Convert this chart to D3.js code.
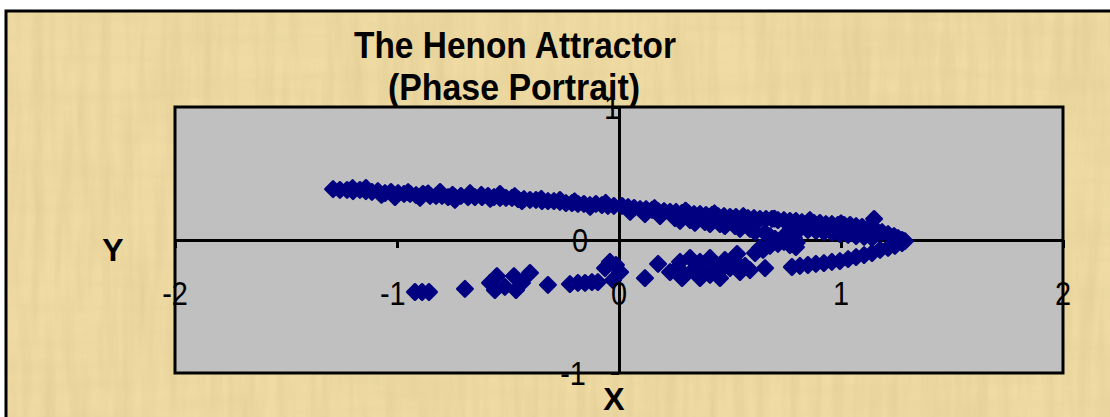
<!DOCTYPE html>
<html>
<head>
<meta charset="utf-8">
<script src="https://cdn.jsdelivr.net/npm/d3@7"></script>
<style>
  body { margin: 0; background: #fff; }
  svg { display: block; font-family: Arial, "Liberation Sans", sans-serif; }
</style>
</head>
<body>
<div id="chart"></div>
<script>
var width = 1110, height = 417;

// plot area in pixels
var plot = { left: 175, right: 1063, top: 107, bottom: 373 };

var titleLines = ["The Henon Attractor", "(Phase Portrait)"];
var xTicks = [-2, -1, 0, 1, 2];
var yTicks = [-1, 0, 1];

// Henon map iterates (x, y)
var henonX = [
    // upper band, left half
    -1.288, -1.257, -1.225, -1.198, -1.167, -1.140, -1.113, -1.086, -1.054, -1.027,
    -0.995, -0.968, -0.941, -0.914, -0.883, -0.851, -0.824, -0.797, -0.770, -0.739,
    -0.712, -0.680, -0.649, -0.617, -0.590, -0.563, -0.536, -0.509, -0.482, -0.455,
    -0.428, -0.401, -0.374, -0.347, -0.320, -0.293, -0.266, -0.239, -0.212, -0.185,
    -0.158, -0.131, -0.104, -0.077, -0.050, -0.023,
    -1.009, -0.896, -0.806, -0.671, -0.536, -1.140, -0.739, -0.437, -0.266,
    -1.200, -1.070, -0.950, -0.860, -0.750, -0.620, -0.580, -0.470, -0.350, -0.200,
    -0.130, -0.060,
    // upper band, right half
    0.014, 0.041, 0.068, 0.095, 0.122, 0.149, 0.176, 0.203, 0.230, 0.257,
    0.284, 0.311, 0.338, 0.365, 0.392, 0.419, 0.446, 0.473, 0.500, 0.527,
    0.554, 0.581, 0.608, 0.635, 0.662, 0.689, 0.716, 0.743, 0.770, 0.797,
    0.824, 0.851, 0.878, 0.905, 0.932, 0.959, 0.986, 1.014, 1.041, 1.068,
    1.095, 1.122, 1.149, 1.158, 1.185, 1.212, 1.239, 1.257, 1.275, 1.288,
    0.160, 0.300, 0.430, 0.560, 0.700, 0.860, 1.000,
    // second row under the upper band
    0.050, 0.117, 0.185, 0.252, 0.275, 0.320, 0.342, 0.387, 0.410, 0.455,
    0.477, 0.523, 0.545, 0.590, 0.613, 0.658, 0.680,
    0.779, 0.815, 0.851, 0.887, 0.923, 0.959, 0.995, 1.032, 1.068, 1.104, 1.140,
    // lower strand returning from the tip
    0.779, 0.815, 0.851, 0.887, 0.923, 0.959, 0.995, 1.032, 1.068, 1.104,
    1.140, 1.176, 1.212, 1.243, 1.275,
    // knot near the axis
    0.613, 0.649, 0.680, 0.716, 0.743, 0.770, 0.797, 0.635, 0.703, 0.743,
    0.770, 0.788, 0.800, 0.658,
    // middle cluster
    0.252, 0.275, 0.297, 0.320, 0.342, 0.365, 0.387, 0.410, 0.432, 0.455,
    0.477, 0.500, 0.523, 0.545, 0.568, 0.590, 0.532, 0.284, 0.365, 0.455,
    0.410, 0.230,
    // lower left points
    -0.919, -0.887, -0.856, -0.694, -0.581, -0.559, -0.550, -0.514, -0.473, -0.464,
    -0.437, -0.401, -0.320, -0.221, -0.185, -0.153, -0.122, -0.095,
    -0.063, -0.041, -0.014, -0.027, 0.005, 0.117, 0.176
];
var henonY = [
    0.383, 0.376, 0.376, 0.368, 0.376, 0.368, 0.361, 0.368, 0.353, 0.361,
    0.353, 0.346, 0.346, 0.338, 0.346, 0.331, 0.331, 0.331, 0.323, 0.323,
    0.331, 0.323, 0.323, 0.323, 0.331, 0.323, 0.316, 0.316, 0.316, 0.308,
    0.308, 0.301, 0.301, 0.293, 0.293, 0.293, 0.286, 0.278, 0.278, 0.271,
    0.271, 0.263, 0.271, 0.263, 0.256, 0.256,
    0.323, 0.316, 0.361, 0.353, 0.346, 0.391, 0.301, 0.293, 0.301,
    0.390, 0.340, 0.360, 0.350, 0.340, 0.340, 0.310, 0.330, 0.310, 0.290,
    0.250, 0.280,
    0.256, 0.248, 0.241, 0.233, 0.233, 0.226, 0.218, 0.218, 0.211, 0.211,
    0.203, 0.203, 0.195, 0.195, 0.188, 0.188, 0.180, 0.180, 0.173, 0.173,
    0.165, 0.165, 0.165, 0.158, 0.158, 0.158, 0.150, 0.150, 0.143, 0.143,
    0.135, 0.135, 0.128, 0.128, 0.120, 0.120, 0.113, 0.113, 0.113, 0.105,
    0.098, 0.090, 0.158, 0.075, 0.060, 0.045, 0.030, 0.015, 0.000, -0.008,
    0.240, 0.220, 0.200, 0.180, 0.160, 0.150, 0.125,
    0.211, 0.195, 0.180, 0.165, 0.143, 0.150, 0.128, 0.135, 0.120, 0.120,
    0.105, 0.105, 0.083, 0.083, 0.060, 0.053, 0.030,
    0.090, 0.083, 0.075, 0.068, 0.060, 0.053, 0.045, 0.038, 0.030, 0.023, 0.015,
    -0.203, -0.195, -0.188, -0.180, -0.173, -0.165, -0.158, -0.143, -0.128, -0.113,
    -0.098, -0.075, -0.060, -0.045, -0.023,
    -0.098, -0.075, -0.045, -0.030, -0.015, -0.038, -0.053, -0.060, 0.008, 0.030,
    0.045, 0.015, -0.020, -0.211,
    -0.226, -0.165, -0.263, -0.135, -0.211, -0.165, -0.248, -0.135, -0.195, -0.233,
    -0.150, -0.211, -0.165, -0.241, -0.195, -0.226, -0.105, -0.286, -0.286, -0.286,
    -0.263, -0.241,
    -0.391, -0.391, -0.391, -0.368, -0.323, -0.376, -0.271, -0.353, -0.271, -0.376,
    -0.323, -0.248, -0.338, -0.331, -0.323, -0.323, -0.316, -0.316,
    -0.211, -0.165, -0.188, -0.301, -0.241, -0.286, -0.180
];

var points = henonX.map(function(v, i) { return { x: v, y: henonY[i] }; });

var svg = d3.select("#chart").append("svg")
    .attr("width", width)
    .attr("height", height);

// parchment texture
var defs = svg.append("defs");
var f1 = defs.append("filter").attr("id", "paperV")
    .attr("x", 0).attr("y", 0).attr("width", "100%").attr("height", "100%");
f1.append("feTurbulence").attr("type", "fractalNoise")
    .attr("baseFrequency", "0.09 0.008").attr("numOctaves", 3).attr("seed", 4);
f1.append("feColorMatrix").attr("type", "matrix")
    .attr("values", "0 0 0 0 0.70  0 0 0 0 0.55  0 0 0 0 0.26  1.4 0 0 0 -0.5");
var f2 = defs.append("filter").attr("id", "paperH")
    .attr("x", 0).attr("y", 0).attr("width", "100%").attr("height", "100%");
f2.append("feTurbulence").attr("type", "fractalNoise")
    .attr("baseFrequency", "0.006 0.07").attr("numOctaves", 3).attr("seed", 9);
f2.append("feColorMatrix").attr("type", "matrix")
    .attr("values", "0 0 0 0 0.76  0 0 0 0 0.62  0 0 0 0 0.32  1.4 0 0 0 -0.5");

var frame = { x: 6, y: 11, w: width + 20, h: height + 20 };
svg.append("rect")
    .attr("x", frame.x).attr("y", frame.y)
    .attr("width", frame.w).attr("height", frame.h)
    .attr("fill", "#efdba3");
svg.append("rect")
    .attr("x", frame.x).attr("y", frame.y)
    .attr("width", frame.w).attr("height", frame.h)
    .attr("filter", "url(#paperV)")
    .attr("opacity", 0.6);
svg.append("rect")
    .attr("x", frame.x).attr("y", frame.y)
    .attr("width", frame.w).attr("height", frame.h)
    .attr("filter", "url(#paperH)")
    .attr("opacity", 0.5);
svg.append("rect")
    .attr("x", frame.x).attr("y", frame.y)
    .attr("width", frame.w).attr("height", frame.h)
    .attr("fill", "none")
    .attr("stroke", "#000")
    .attr("stroke-width", 3);

var x = d3.scaleLinear().domain([-2, 2]).range([plot.left, plot.right]);
var y = d3.scaleLinear().domain([-1, 1]).range([plot.bottom, plot.top]);

// plot area
svg.append("rect")
    .attr("x", plot.left).attr("y", plot.top)
    .attr("width", plot.right - plot.left).attr("height", plot.bottom - plot.top)
    .attr("fill", "#c0c0c0");

// axes cross at the origin
svg.append("g")
    .attr("transform", "translate(0," + y(0) + ")")
    .call(d3.axisBottom(x).tickValues(xTicks).tickSize(8).tickSizeOuter(0).tickFormat(""));
svg.append("g")
    .attr("transform", "translate(" + x(0) + ",0)")
    .call(d3.axisLeft(y).tickValues(yTicks).tickSize(8).tickSizeOuter(0).tickFormat(""));
svg.selectAll(".domain, .tick line")
    .attr("stroke", "#000")
    .attr("stroke-width", 3);

// markers (diamonds with a same-colour outline, like Excel's)
svg.append("g").selectAll("path")
    .data(points)
    .enter().append("path")
    .attr("d", d3.symbol().type(d3.symbolSquare).size(120))
    .attr("transform", function(d) {
        return "translate(" + x(d.x) + "," + y(d.y) + ") rotate(45)";
    })
    .attr("fill", "#000080")
    .attr("stroke", "#000080")
    .attr("stroke-width", 2.5)
    .attr("stroke-linejoin", "round");

// plot border on top
svg.append("rect")
    .attr("x", plot.left).attr("y", plot.top)
    .attr("width", plot.right - plot.left).attr("height", plot.bottom - plot.top)
    .attr("fill", "none")
    .attr("stroke", "#000")
    .attr("stroke-width", 3);

// tick labels (Excel placed them oddly, keep the offsets)
function squeeze(cx) {
    return "translate(" + cx + ",0) scale(0.85,1) translate(" + (-cx) + ",0)";
}

svg.append("g").selectAll("text")
    .data(xTicks)
    .enter().append("text")
    .attr("x", function(d) { return x(d) + (d == -1 ? -5 : 0); })
    .attr("y", y(0) + 65)
    .attr("text-anchor", "middle")
    .attr("font-size", 34)
    .attr("transform", function(d) { return squeeze(x(d)); })
    .attr("fill", "#000")
    .text(function(d) { return d; });

var yLabelX = { "1": 612, "0": 580, "-1": 573 };
svg.append("g").selectAll("text")
    .data(yTicks)
    .enter().append("text")
    .attr("x", function(d) { return yLabelX[d]; })
    .attr("y", function(d) { return y(d) + 12; })
    .attr("text-anchor", "middle")
    .attr("font-size", 34)
    .attr("transform", function(d) { return squeeze(yLabelX[d]); })
    .attr("fill", "#000")
    .text(function(d) { return d; });

// title
svg.append("text")
    .attr("x", 354).attr("y", 58)
    .attr("font-size", 36).attr("font-weight", "bold")
    .attr("textLength", 322).attr("lengthAdjust", "spacingAndGlyphs")
    .text(titleLines[0]);
svg.append("text")
    .attr("x", 388).attr("y", 100)
    .attr("font-size", 36).attr("font-weight", "bold")
    .attr("textLength", 252).attr("lengthAdjust", "spacingAndGlyphs")
    .text(titleLines[1]);

// axis titles
svg.append("text")
    .attr("x", 614).attr("y", 410)
    .attr("text-anchor", "middle")
    .attr("font-size", 32).attr("font-weight", "bold")
    .text("X");
svg.append("text")
    .attr("x", 113).attr("y", 261)
    .attr("text-anchor", "middle")
    .attr("font-size", 32).attr("font-weight", "bold")
    .text("Y");
</script>
</body>
</html>
